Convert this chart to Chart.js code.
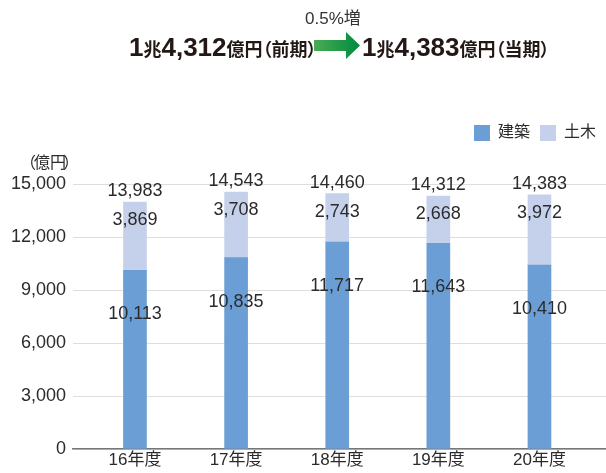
<!DOCTYPE html>
<html lang="ja">
<head>
<meta charset="utf-8">
<script src="https://cdn.jsdelivr.net/npm/chart.js@4/dist/chart.umd.min.js"></script>
<style>
    html, body { margin: 0; padding: 0; background: #fff; }
    #wrap { position: relative; width: 606px; height: 473px; font-family: 'Liberation Sans', 'Noto Sans CJK JP', sans-serif; color: #231815; }
    #grafico { position: absolute; left: 0; top: 0; }
    .cab { position: absolute; white-space: nowrap; line-height: 1; }
    .grande { font-size: 26px; font-weight: bold; }
    .pequeno { font-size: 18px; font-weight: bold; font-feature-settings: "palt"; }
    .medio { font-size: 17px; color: #333; }
</style>
</head>
<body>
<div id="wrap">
    <canvas id="grafico" width="606" height="473"></canvas>
    <div class="cab medio" style="left:305px; top:10px;">0.5%増</div>
    <div class="cab" style="left:129px; top:34px;"><span class="grande">1</span><span class="pequeno">兆</span><span class="grande">4,312</span><span class="pequeno">億円（前期）</span></div>
    <svg class="cab" style="left:314px; top:32px;" width="47" height="27" viewBox="0 0 47 27">
        <defs>
            <linearGradient id="verde" x1="0" x2="1" y1="0" y2="0">
                <stop offset="0" stop-color="#4bab55"/>
                <stop offset="1" stop-color="#008a3e"/>
            </linearGradient>
        </defs>
        <polygon points="0,8 32,8 32,0 46,13.5 32,27 32,19 0,19" fill="url(#verde)"/>
    </svg>
    <div class="cab" style="left:362px; top:34px;"><span class="grande">1</span><span class="pequeno">兆</span><span class="grande">4,383</span><span class="pequeno">億円（当期）</span></div>
</div>
<script>
//dados do gráfico
const categorias = ['16年度', '17年度', '18年度', '19年度', '20年度'];
const construcao = [10113, 10835, 11717, 11643, 10410];
const engenharia = [3869, 3708, 2743, 2668, 3972];
const totais = [13983, 14543, 14460, 14312, 14383];
const ticks_y = [0, 3000, 6000, 9000, 12000, 15000];

const fonte = "'Liberation Sans', 'Noto Sans CJK JP', sans-serif";
const corTexto = '#2b2b2b';

//espaço extra entre a legenda e o gráfico
const espacoLegenda = {
    id: 'espacoLegenda',
    beforeInit(chart) {
        const fitOriginal = chart.legend.fit;
        chart.legend.fit = function () {
            fitOriginal.bind(chart.legend)();
            this.height += 33;
        };
    }
};

//rótulos dos valores em cima das barras
const rotulos = {
    id: 'rotulos',
    afterDatasetsDraw(chart) {
        const ctx = chart.ctx, x = chart.scales.x, y = chart.scales.y;
        ctx.save();
        ctx.font = '18px ' + fonte;
        ctx.fillStyle = corTexto;
        ctx.textAlign = 'center';
        ctx.textBaseline = 'middle';
        categorias.forEach((c, i) => {
            const px = x.getPixelForValue(i);
            ctx.fillText(totais[i].toLocaleString('en-US'), px, y.getPixelForValue(construcao[i] + engenharia[i]) - 11);
            ctx.fillText(engenharia[i].toLocaleString('en-US'), px, y.getPixelForValue(construcao[i] + engenharia[i]) + 18);
            ctx.fillText(construcao[i].toLocaleString('en-US'), px, y.getPixelForValue(construcao[i]) + 44);
        });
        // unidade do eixo y
        ctx.font = '16px ' + fonte;
        ctx.fillText('億円', 50, 164);
        ctx.textAlign = 'left';
        ctx.fillText('（', 20, 164);
        ctx.textAlign = 'right';
        ctx.fillText('）', 79, 164);
        ctx.restore();
    }
};

const grafico = new Chart(document.getElementById('grafico'), {
    type: 'bar',
    data: {
        datasets: [{
            label: '建築',
            backgroundColor: '#6b9ed4',
            data: construcao.map((v, i) => ({ x: i, y: v }))
        }, {
            label: '土木',
            backgroundColor: '#c5d1ea',
            data: engenharia.map((v, i) => ({ x: i, y: v }))
        }]
    },
    options: {
        responsive: false,
        animation: false,
        barThickness: 23,
        layout: {
            padding: { top: 115, right: 0, left: 0, bottom: 0 }
        },
        plugins: {
            legend: {
                position: 'top',
                align: 'end',
                labels: {
                    boxWidth: 16,
                    boxHeight: 16,
                    padding: 10,
                    color: corTexto,
                    font: { size: 16, family: fonte }
                }
            },
            tooltip: { enabled: false }
        },
        scales: {
            x: {
                type: 'linear',
                stacked: true,
                offset: false,
                min: -0.613,
                max: 4.658,
                afterBuildTicks: (s) => { s.ticks = categorias.map((c, i) => ({ value: i })); },
                afterFit: (s) => { s.height = 24; },
                ticks: {
                    callback: (v) => categorias[v],
                    color: corTexto,
                    padding: 3,
                    maxRotation: 0,
                    font: { size: 17, family: fonte, lineHeight: 1 }
                },
                grid: { display: false, drawTicks: false },
                border: { display: true, color: '#777', width: 1.5 }
            },
            y: {
                stacked: true,
                min: 0,
                max: 15000,
                afterBuildTicks: (s) => { s.ticks = ticks_y.map(v => ({ value: v })); },
                afterFit: (s) => { s.width = 73; },
                ticks: {
                    callback: (v) => v.toLocaleString('en-US'),
                    color: corTexto,
                    padding: 7,
                    font: { size: 18, family: fonte }
                },
                grid: { color: '#e3dcdc', drawTicks: false, lineWidth: 1 },
                border: { display: false }
            }
        }
    },
    plugins: [espacoLegenda, rotulos]
});
</script>
</body>
</html>
